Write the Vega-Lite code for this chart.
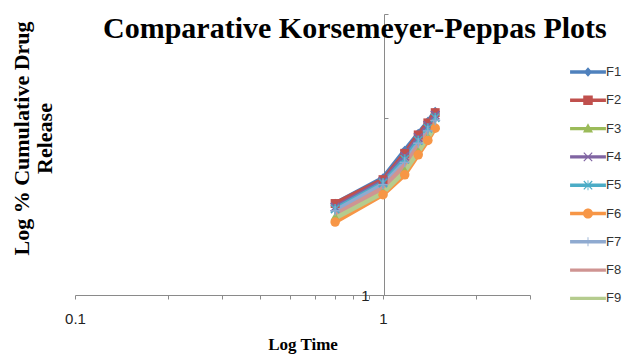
{
  "$schema": "https://vega.github.io/schema/vega-lite/v6.json",
  "width": 455,
  "height": 281,
  "autosize": {"type": "none"},
  "padding": {"left": 75, "top": 14, "right": 99, "bottom": 59},
  "background": "white",
  "config": {"view": {"stroke": null}},
  "title": {
    "text": "Comparative Korsemeyer-Peppas  Plots",
    "font": "Liberation Serif",
    "fontSize": 30,
    "fontWeight": "bold",
    "color": "#000000",
    "anchor": "start",
    "frame": "group",
    "dx": 28,
    "offset": 0,
    "baseline": "alphabetic",
    "dy": 61
  },
  "data": {
    "values": [
      {"series": "F1", "t": 0.699, "y": 1.43}, {"series": "F1", "t": 1.0, "y": 1.58}, {"series": "F1", "t": 1.176, "y": 1.76}, {"series": "F1", "t": 1.301, "y": 1.88}, {"series": "F1", "t": 1.398, "y": 1.97}, {"series": "F1", "t": 1.477, "y": 2.05},
      {"series": "F2", "t": 0.699, "y": 1.43}, {"series": "F2", "t": 1.0, "y": 1.57}, {"series": "F2", "t": 1.176, "y": 1.74}, {"series": "F2", "t": 1.301, "y": 1.87}, {"series": "F2", "t": 1.398, "y": 1.96}, {"series": "F2", "t": 1.477, "y": 2.04},
      {"series": "F3", "t": 0.699, "y": 1.36}, {"series": "F3", "t": 1.0, "y": 1.50}, {"series": "F3", "t": 1.176, "y": 1.63}, {"series": "F3", "t": 1.301, "y": 1.76}, {"series": "F3", "t": 1.398, "y": 1.86}, {"series": "F3", "t": 1.477, "y": 1.94},
      {"series": "F4", "t": 0.699, "y": 1.41}, {"series": "F4", "t": 1.0, "y": 1.56}, {"series": "F4", "t": 1.176, "y": 1.72}, {"series": "F4", "t": 1.301, "y": 1.85}, {"series": "F4", "t": 1.398, "y": 1.94}, {"series": "F4", "t": 1.477, "y": 2.02},
      {"series": "F5", "t": 0.699, "y": 1.40}, {"series": "F5", "t": 1.0, "y": 1.55}, {"series": "F5", "t": 1.176, "y": 1.70}, {"series": "F5", "t": 1.301, "y": 1.83}, {"series": "F5", "t": 1.398, "y": 1.92}, {"series": "F5", "t": 1.477, "y": 2.00},
      {"series": "F6", "t": 0.699, "y": 1.33}, {"series": "F6", "t": 1.0, "y": 1.48}, {"series": "F6", "t": 1.176, "y": 1.60}, {"series": "F6", "t": 1.301, "y": 1.73}, {"series": "F6", "t": 1.398, "y": 1.83}, {"series": "F6", "t": 1.477, "y": 1.92},
      {"series": "F7", "t": 0.699, "y": 1.39}, {"series": "F7", "t": 1.0, "y": 1.54}, {"series": "F7", "t": 1.176, "y": 1.68}, {"series": "F7", "t": 1.301, "y": 1.81}, {"series": "F7", "t": 1.398, "y": 1.90}, {"series": "F7", "t": 1.477, "y": 1.98},
      {"series": "F8", "t": 0.699, "y": 1.37}, {"series": "F8", "t": 1.0, "y": 1.52}, {"series": "F8", "t": 1.176, "y": 1.66}, {"series": "F8", "t": 1.301, "y": 1.79}, {"series": "F8", "t": 1.398, "y": 1.88}, {"series": "F8", "t": 1.477, "y": 1.96},
      {"series": "F9", "t": 0.699, "y": 1.35}, {"series": "F9", "t": 1.0, "y": 1.49}, {"series": "F9", "t": 1.176, "y": 1.62}, {"series": "F9", "t": 1.301, "y": 1.75}, {"series": "F9", "t": 1.398, "y": 1.85}, {"series": "F9", "t": 1.477, "y": 1.93}
    ]
  },
  "encoding": {
    "x": {
      "field": "t",
      "type": "quantitative",
      "scale": {"type": "log", "domain": [0.1, 3], "nice": false},
      "axis": {
        "values": [0.1, 0.2, 0.3, 0.4, 0.5, 0.6, 0.7, 0.8, 0.9, 1, 2, 3],
        "labelExpr": "datum.value == 0.1 ? '0.1' : datum.value == 1 ? '1' : ''",
        "grid": false,
        "domainColor": "#8a8a8a",
        "tickColor": "#8a8a8a",
        "tickSize": 4,
        "labelFlush": false,
        "labelOverlap": false,
        "labelFont": "Liberation Sans",
        "labelFontSize": 15,
        "labelColor": "#222222",
        "labelPadding": 12,
        "title": "Log Time",
        "titleFont": "Liberation Serif",
        "titleFontSize": 17,
        "titleFontWeight": "bold",
        "titleColor": "#000000",
        "titlePadding": 10
      }
    },
    "y": {
      "field": "y",
      "type": "quantitative",
      "scale": {"type": "log", "domain": [1, 3], "nice": false},
      "axis": null
    },
    "color": {
      "field": "series",
      "type": "nominal",
      "scale": {
        "domain": ["F1", "F2", "F3", "F4", "F5", "F6", "F7", "F8", "F9"],
        "range": ["#4F81BD", "#C0504D", "#9BBB59", "#8064A2", "#4BACC6", "#F79646", "#8FAAD0", "#CF9492", "#B5CC8E"]
      },
      "legend": null
    }
  },
  "layer": [
    {
      "mark": {"type": "line", "strokeWidth": 4.5},
      "encoding": {
        "y": {
          "field": "y",
          "type": "quantitative",
          "scale": {"type": "log", "domain": [1, 3], "nice": false},
          "axis": {
            "orient": "left",
            "domain": false,
            "ticks": false,
            "labels": false,
            "grid": false,
            "title": ["Log % Cumulative Drug", "Release"],
            "titleFont": "Liberation Serif",
            "titleFontSize": 22,
            "titleFontWeight": "bold",
            "titleColor": "#000000",
            "titleAngle": 270,
            "titleAlign": "center",
            "titleBaseline": "top",
            "titleLineHeight": 23,
            "titleX": -64,
            "titleY": 124
          }
        },
        "color": {
          "field": "series",
          "type": "nominal",
          "scale": {
            "domain": ["F1", "F2", "F3", "F4", "F5", "F6", "F7", "F8", "F9"],
            "range": ["#4F81BD", "#C0504D", "#9BBB59", "#8064A2", "#4BACC6", "#F79646", "#8FAAD0", "#CF9492", "#B5CC8E"]
          },
          "legend": {
            "orient": "none",
            "legendX": 499,
            "legendY": 44,
            "title": null,
            "padding": 0,
            "symbolSize": 784,
            "symbolStrokeWidth": 0,
            "labelFont": "Liberation Sans",
            "labelFontSize": 13,
            "labelColor": "#333333",
            "labelOffset": 4,
            "rowPadding": 7.3,
            "encode": {
              "symbols": {
                "update": {
                  "shape": {"signal": "datum.value === 'F1' ? 'M-1.28,-0.12H1.28V0.12H-1.28Z M0,-0.34L0.3,0L0,0.34L-0.3,0Z' : datum.value === 'F2' ? 'M-1.28,-0.12H1.28V0.12H-1.28Z M-0.34,-0.34H0.34V0.34H-0.34Z' : datum.value === 'F3' ? 'M-1.28,-0.12H1.28V0.12H-1.28Z M0,-0.38L0.36,0.28L-0.36,0.28Z' : datum.value === 'F4' ? 'M-1.28,-0.12H1.28V0.12H-1.28Z M-0.27,-0.33L0.33,0.27L0.27,0.33L-0.33,-0.27Z M0.33,-0.27L-0.27,0.33L-0.33,0.27L0.27,-0.33Z' : datum.value === 'F5' ? 'M-1.28,-0.12H1.28V0.12H-1.28Z M-0.27,-0.33L0.33,0.27L0.27,0.33L-0.33,-0.27Z M0.33,-0.27L-0.27,0.33L-0.33,0.27L0.27,-0.33Z M-0.03,-0.36H0.03V0.36H-0.03Z' : datum.value === 'F6' ? 'M-1.28,-0.12H1.28V0.12H-1.28Z M-0.36,0A0.36,0.36 0 1,1 0.36,0A0.36,0.36 0 1,1 -0.36,0Z' : datum.value === 'F7' ? 'M-1.28,-0.12H1.28V0.12H-1.28Z M-0.03,-0.32H0.03V0.32H-0.03Z' : 'M-1.28,-0.12H1.28V0.12H-1.28Z'"},
                  "fill": {"scale": "color", "field": "value"},
                  "strokeWidth": {"value": 0},
                  "opacity": {"value": 1}
                }
              }
            }
          }
        }
      }
    },
    {
      "transform": [{"filter": {"field": "series", "equal": "F1"}}],
      "mark": {"type": "point", "shape": "diamond", "filled": true, "size": 90, "opacity": 1},
      "encoding": {
        "y": {
          "field": "y",
          "type": "quantitative",
          "scale": {"type": "log", "domain": [1, 3], "nice": false},
          "axis": {
            "orient": "right",
            "offset": -146,
            "values": [1, 2, 3],
            "labelExpr": "datum.value == 1 ? '1' : ''",
            "grid": false,
            "domainColor": "#8a8a8a",
            "tickColor": "#8a8a8a",
            "tickSize": 4,
            "labelAlign": "right",
            "labelBaseline": "middle",
            "labelPadding": -19,
            "labelFont": "Liberation Sans",
            "labelFontSize": 15,
            "labelColor": "#222222",
            "labelOverlap": false,
            "title": null
          }
        }
      }
    },
    {
      "transform": [{"filter": {"field": "series", "equal": "F2"}}],
      "mark": {"type": "point", "shape": "square", "filled": true, "size": 80, "opacity": 1}
    },
    {
      "transform": [{"filter": {"field": "series", "equal": "F3"}}],
      "mark": {"type": "point", "shape": "triangle-up", "filled": true, "size": 85, "opacity": 1}
    },
    {
      "transform": [{"filter": {"field": "series", "equal": "F4"}}],
      "mark": {"type": "point", "shape": "M-1,-1L1,1M1,-1L-1,1", "filled": false, "size": 70, "strokeWidth": 1.6, "opacity": 1}
    },
    {
      "transform": [{"filter": {"field": "series", "equal": "F5"}}],
      "mark": {"type": "point", "shape": "M-1,-1L1,1M1,-1L-1,1M0,-1.2L0,1.2", "filled": false, "size": 70, "strokeWidth": 1.6, "opacity": 1}
    },
    {
      "transform": [{"filter": {"field": "series", "equal": "F6"}}],
      "mark": {"type": "point", "shape": "circle", "filled": true, "size": 90, "opacity": 1}
    },
    {
      "transform": [{"filter": {"field": "series", "equal": "F7"}}],
      "mark": {"type": "point", "shape": "M-1.2,0L1.2,0M0,-1.2L0,1.2", "filled": false, "size": 70, "strokeWidth": 1.3, "opacity": 1}
    }
  ],
  "resolve": {"axis": {"y": "independent"}}
}
